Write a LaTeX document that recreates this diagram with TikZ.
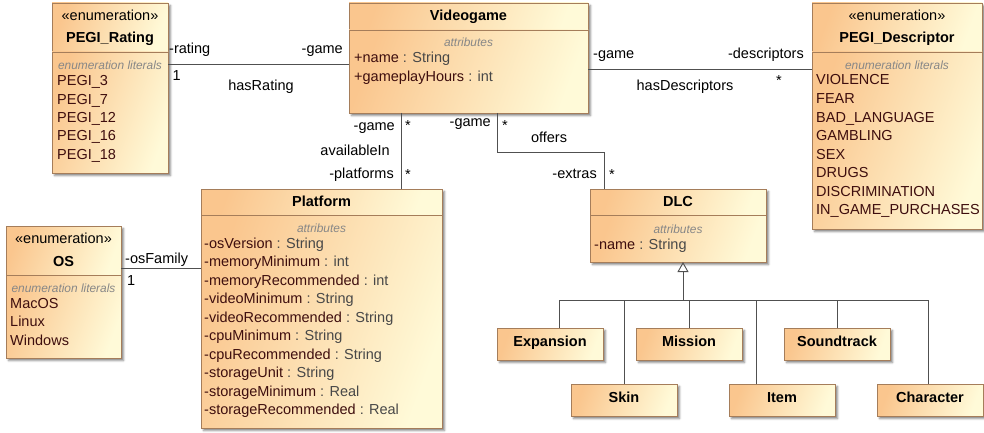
\documentclass[tikz,border=0pt]{standalone}
\usepackage{fontspec}
\setmainfont{Liberation Sans}
\usetikzlibrary{arrows.meta,shadows.blur}

\definecolor{umlA}{RGB}{250,198,142}
\definecolor{umlB}{RGB}{255,250,216}
\definecolor{umlBorder}{RGB}{165,125,90}
\definecolor{umlName}{RGB}{62,14,14}
\definecolor{umlType}{RGB}{72,72,72}
\definecolor{umlNote}{RGB}{135,135,135}
\definecolor{umlLine}{RGB}{80,80,80}

\newcommand\mainsize{\fontsize{14.5}{17}\selectfont}
\newcommand\notesize{\fontsize{11.9}{14}\selectfont}
\newcommand\an[1]{\textcolor{umlName}{#1}}
\newcommand\ty[1]{\textcolor{umlType}{: #1}}

% class box: name, x, y, width, header height, body height
\newcommand\umlclass[6]{%
  \node[clsframe, minimum width=#4pt, minimum height=#5pt+#6pt] (#1) at (#2,#3) {};
  \node[clspart, minimum width=#4pt, minimum height=#5pt] (#1h) at (#2,#3) {};
  \node[clspart, minimum width=#4pt, minimum height=#6pt] (#1b) at (#2,#3+#5) {};
}

\tikzset{
  boxshadow/.style={blur shadow={shadow xshift=2.5pt, shadow yshift=-2.5pt,
      shadow blur radius=2pt, shadow opacity=50}},
  clsframe/.style={draw=umlBorder, line width=0.9pt, fill=umlB, anchor=north west,
      inner sep=0pt, outer sep=0pt, boxshadow},
  clspart/.style={draw=umlBorder, line width=0.9pt, top color=umlA, bottom color=umlB,
      shading angle=70, anchor=north west, inner sep=0pt, outer sep=0pt},
  leaf/.style={clspart, boxshadow, minimum width=106pt, minimum height=32pt,
      font=\mainsize\bfseries, text height=10.3pt, text depth=5pt},
  ttl/.style={font=\mainsize\bfseries, anchor=base, inner sep=0pt},
  stereo/.style={font=\mainsize, anchor=base, inner sep=0pt},
  note/.style={font=\notesize\itshape, text=umlNote, anchor=base, inner sep=0pt},
  item/.style={font=\mainsize, anchor=base west, inner sep=0pt},
  lit/.style={item, text=umlName},
  lbl/.style={font=\mainsize, inner sep=0pt},
  assoc/.style={draw=umlLine, line width=0.9pt},
  gen/.style={assoc, -{Triangle[open, length=10pt, width=11pt]}},
}

\begin{document}
\begin{tikzpicture}[x=1pt, y=-1pt]
\useasboundingbox (0,0) rectangle (984,433);

% ---- class boxes
\umlclass{pr}{52}{3}{116}{49}{121}
\umlclass{vg}{349}{3}{239}{27}{83}
\umlclass{pd}{812}{3}{170}{49}{177}
\umlclass{pf}{201}{189}{241}{26}{213}
\umlclass{os}{6}{226}{115}{49}{83}
\umlclass{dlc}{590}{189}{176}{26}{47}

% ---- PEGI_Rating
\node[stereo] (prS) at (110,21) {«enumeration»};
\node[ttl] (prT) at (110,43) {PEGI\_Rating};
\node[note] (prN) at (110,70) {enumeration literals};
\foreach \v [count=\i] in {PEGI\_3,PEGI\_7,PEGI\_12,PEGI\_16,PEGI\_18}
  \node[lit] (pr\i) at (57,{85.7+18.33*(\i-1)}) {\v};

% ---- Videogame
\node[ttl] (vgT) at (468.5,21) {Videogame};
\node[note] (vgN) at (468.5,47) {attributes};
\node[item] (vg1) at (354,63) {\an{+name} \ty{String}};
\node[item] (vg2) at (354,82) {\an{+gameplayHours} \ty{int}};

% ---- PEGI_Descriptor
\node[stereo] (pdS) at (897,21) {«enumeration»};
\node[ttl] (pdT) at (897,43) {PEGI\_Descriptor};
\node[note] (pdN) at (897,70) {enumeration literals};
\foreach \v [count=\i] in {VIOLENCE,FEAR,BAD\_LANGUAGE,GAMBLING,SEX,DRUGS,DISCRIMINATION,IN\_GAME\_PURCHASES}
  \node[lit] (pd\i) at (816,{85+18.57*(\i-1)}) {\v};

% ---- Platform
\node[ttl] (pfT) at (321.5,206) {Platform};
\node[note] (pfN) at (321.5,232.5) {attributes};
\foreach \nm/\tp [count=\i] in {osVersion/String,memoryMinimum/int,memoryRecommended/int,
    videoMinimum/String,videoRecommended/String,cpuMinimum/String,cpuRecommended/String,
    storageUnit/String,storageMinimum/Real,storageRecommended/Real}
  \node[item] (pf\i) at (204,{248.3+18.52*(\i-1)}) {\an{-\nm} \ty{\tp}};

% ---- OS
\node[stereo] (osS) at (63.5,243) {«enumeration»};
\node[ttl] (osT) at (63.5,266) {OS};
\node[note] (osN) at (63.5,292) {enumeration literals};
\foreach \v [count=\i] in {MacOS,Linux,Windows}
  \node[lit] (os\i) at (10,{308+18.5*(\i-1)}) {\v};

% ---- DLC
\node[ttl] (dlcT) at (678,206) {DLC};
\node[note] (dlcN) at (678,233) {attributes};
\node[item] (dlc1) at (594,249) {\an{-name} \ty{String}};

% ---- DLC subclasses
\node[leaf] (ex) at (497,328) {Expansion};
\node[leaf] (mi) at (636,328) {Mission};
\node[leaf] (so) at (784,328) {Soundtrack};
\node[leaf] (sk) at (571,384) {Skin};
\node[leaf] (it) at (729,384) {Item};
\node[leaf] (ch) at (877,384) {Character};

% ---- association hasRating
\coordinate (yr) at (0,64);
\draw[assoc] (pr.east |- yr) -- (vg.west |- yr);
\node[lbl, anchor=base west] (rRole) at (169,54) {-rating};
\node[lbl, anchor=base west] (rMul) at (172.5,81) {1};
\node[lbl, anchor=base east] (rGame) at (343,54) {-game};
\node[lbl, anchor=base] (rName) at (261,91) {hasRating};

% ---- association hasDescriptors
\coordinate (yd) at (0,69);
\draw[assoc] (vg.east |- yd) -- (pd.west |- yd);
\node[lbl, anchor=base west] (dGame) at (593,58.5) {-game};
\node[lbl, anchor=base east] (dRole) at (804,58.5) {-descriptors};
\node[lbl, anchor=base west] (dMul) at (776,86) {*};
\node[lbl, anchor=base] (dName) at (685,91) {hasDescriptors};

% ---- association availableIn
\coordinate (xa) at (401,0);
\draw[assoc] (vg.south -| xa) -- (pf.north -| xa);
\node[lbl, anchor=base east] (aGame) at (395,130) {-game};
\node[lbl, anchor=base west] (aMul1) at (405,131) {*};
\node[lbl, anchor=base east] (aName) at (390,155) {availableIn};
\node[lbl, anchor=base east] (aRole) at (394,178) {-platforms};
\node[lbl, anchor=base west] (aMul2) at (405,179) {*};

% ---- association offers
\coordinate (ob) at (497,152);
\coordinate (oc) at (604,152);
\draw[assoc] (vg.south -| ob) -- (ob) -- (oc) -- (dlc.north -| oc);
\node[lbl, anchor=base east] (oGame) at (491,126.5) {-game};
\node[lbl, anchor=base west] (oMul1) at (502,131) {*};
\node[lbl, anchor=base] (oName) at (549,142) {offers};
\node[lbl, anchor=base east] (oRole) at (597,178) {-extras};
\node[lbl, anchor=base west] (oMul2) at (609,179) {*};

% ---- association osFamily
\coordinate (yo) at (0,268);
\draw[assoc] (os.east |- yo) -- (pf.west |- yo);
\node[lbl, anchor=base west] (fRole) at (125,263) {-osFamily};
\node[lbl, anchor=base west] (fMul) at (127,285) {1};

% ---- generalization tree
\coordinate (gs) at (683,300);
\coordinate (g1) at (559,300);
\coordinate (g2) at (624,300);
\coordinate (g3) at (689,300);
\coordinate (g4) at (756,300);
\coordinate (g5) at (837,300);
\coordinate (g6) at (928,300);
\draw[gen] (gs) -- (dlc.south -| gs);
\draw[assoc] (g1) -- (g6);
\draw[assoc] (g1) -- (ex.north -| g1);
\draw[assoc] (g2) -- (sk.north -| g2);
\draw[assoc] (g3) -- (mi.north -| g3);
\draw[assoc] (g4) -- (it.north -| g4);
\draw[assoc] (g5) -- (so.north -| g5);
\draw[assoc] (g6) -- (ch.north -| g6);
\end{tikzpicture}
\end{document}
